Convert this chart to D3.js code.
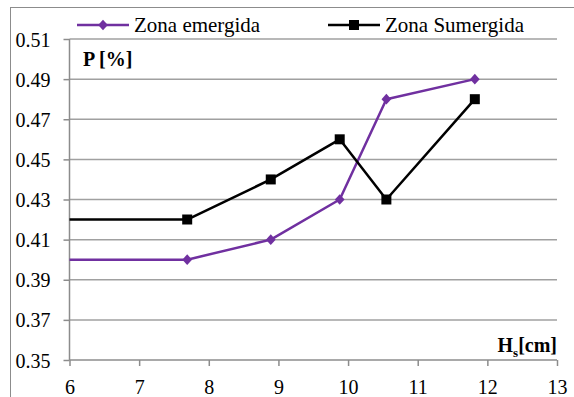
<!DOCTYPE html>
<html>
<head>
<meta charset="utf-8">
<script src="https://cdn.jsdelivr.net/npm/d3@7"></script>
<style>
  html, body { margin: 0; padding: 0; background: #fff; font-family: 'Liberation Serif', serif; }
  svg { display: block; font-family: 'Liberation Serif', serif; }
</style>
</head>
<body>
<svg id="chart" width="574" height="397" style="font-family:'Liberation Serif', serif"></svg>
<script>
// Wave height Hs [cm] and porosity P for each zone
const hs = [5.5, 7.69, 8.89, 9.88, 10.55, 11.82];
const emergida = [0.40, 0.40, 0.41, 0.43, 0.48, 0.49];
const sumergida = [0.42, 0.42, 0.44, 0.46, 0.43, 0.48];
const seriesNames = ["Zona emergida", "Zona Sumergida"];
const seriesColors = ["#7030A0", "#000000"];
const xTicks = [6, 7, 8, 9, 10, 11, 12, 13];
const yTicks = [0.35, 0.37, 0.39, 0.41, 0.43, 0.45, 0.47, 0.49, 0.51];

const FONT = "Liberation Serif";
const svg = d3.select("#chart");
const m = { left: 69.5, right: 557, top: 39, bottom: 360 };

const x = d3.scaleLinear().domain([6, 13]).range([m.left, m.right]);
const y = d3.scaleLinear().domain([0.35, 0.51]).range([m.bottom, m.top]);

// outer chart frame
svg.append("rect")
  .attr("x", 10.5).attr("y", 7.5)
  .attr("width", 600).attr("height", 420)
  .attr("fill", "none").attr("stroke", "#8c8c8c").attr("stroke-width", 1);

// horizontal gridlines
svg.append("g")
  .selectAll("line")
  .data(yTicks.slice(1))
  .join("line")
  .attr("x1", m.left).attr("x2", m.right)
  .attr("y1", d => y(d)).attr("y2", d => y(d))
  .attr("stroke", "#a0a0a0").attr("stroke-width", 1.5);

// y axis
const yAxis = svg.append("g")
  .attr("transform", `translate(${m.left},0)`)
  .call(d3.axisLeft(y).tickValues(yTicks).tickFormat(d3.format(".2f")).tickSize(6).tickPadding(12))
  .attr("font-family", FONT).attr("font-size", 20);
yAxis.select(".domain").attr("stroke", "#8c8c8c").attr("stroke-width", 1.5).attr("d", `M0,${m.top}V${m.bottom}`);
yAxis.selectAll(".tick line").attr("stroke", "#8c8c8c").attr("stroke-width", 1.5);
yAxis.selectAll(".tick text").attr("fill", "#000").attr("dy", "0.35em").attr("x", -19);

// x axis
const xAxis = svg.append("g")
  .attr("transform", `translate(0,${m.bottom})`)
  .call(d3.axisBottom(x).tickValues(xTicks).tickFormat(d3.format("d")).tickSize(6).tickPadding(14))
  .attr("font-family", FONT).attr("font-size", 20);
xAxis.select(".domain").attr("stroke", "#8c8c8c").attr("stroke-width", 1.5).attr("d", `M${m.left},0H${m.right}`);
xAxis.selectAll(".tick line").attr("stroke", "#8c8c8c").attr("stroke-width", 1.5);
xAxis.selectAll(".tick text").attr("fill", "#000");

// clip series to the plotting area
svg.append("clipPath").attr("id", "plot-clip")
  .append("rect").attr("x", m.left).attr("y", 0)
  .attr("width", m.right - m.left + 10).attr("height", m.bottom + 10);

const line = d3.line().x(d => x(d[0])).y(d => y(d[1]));
const data = [emergida, sumergida].map(vals => hs.map((h, i) => [h, vals[i]]));

const plot = svg.append("g").attr("clip-path", "url(#plot-clip)");
data.forEach((pts, s) => {
  plot.append("path")
    .datum(pts)
    .attr("d", line)
    .attr("fill", "none")
    .attr("stroke", seriesColors[s])
    .attr("stroke-width", 2.5)
    .attr("stroke-linejoin", "round");
});

// markers: diamonds for the emerged zone, squares for the submerged zone
const diamond = d3.symbol().type(d3.symbolDiamond2).size(60);
const square = d3.symbol().type(d3.symbolSquare).size(100);
plot.append("g").selectAll("path")
  .data(data[0].filter(d => d[0] >= 6))
  .join("path")
  .attr("transform", d => `translate(${x(d[0])},${y(d[1])}) scale(1,1.1)`)
  .attr("d", diamond)
  .attr("fill", seriesColors[0]);
plot.append("g").selectAll("path")
  .data(data[1].filter(d => d[0] >= 6))
  .join("path")
  .attr("transform", d => `translate(${x(d[0])},${y(d[1])})`)
  .attr("d", square)
  .attr("fill", seriesColors[1]);

// legend
const legend = [
  { name: seriesNames[0], color: seriesColors[0], x0: 77, sym: diamond, sc: "scale(1,1.1)" },
  { name: seriesNames[1], color: seriesColors[1], x0: 328, sym: square, sc: "" }
];
const lg = svg.append("g").attr("font-family", FONT);
legend.forEach(l => {
  lg.append("line")
    .attr("x1", l.x0).attr("x2", l.x0 + 52)
    .attr("y1", 25).attr("y2", 25)
    .attr("stroke", l.color).attr("stroke-width", 2.5);
  lg.append("path")
    .attr("transform", `translate(${l.x0 + 26},25) ${l.sc}`)
    .attr("d", l.sym)
    .attr("fill", l.color);
  lg.append("text")
    .attr("x", l.x0 + 57).attr("y", 32)
    .attr("font-family", FONT).attr("font-size", 21).attr("fill", "#000")
    .text(l.name);
});

// axis titles
svg.append("text")
  .attr("x", 83).attr("y", 66)
  .attr("font-family", FONT).attr("font-size", 20).attr("font-weight", "bold")
  .text("P [%]");

const ht = svg.append("text")
  .attr("x", m.right).attr("y", 352)
  .attr("text-anchor", "end")
  .attr("font-family", FONT).attr("font-size", 20).attr("font-weight", "bold");
ht.append("tspan").text("H");
ht.append("tspan").attr("font-size", 13).attr("dy", 5).text("s");
ht.append("tspan").attr("dy", -5).text("[cm]");
</script>
</body>
</html>
